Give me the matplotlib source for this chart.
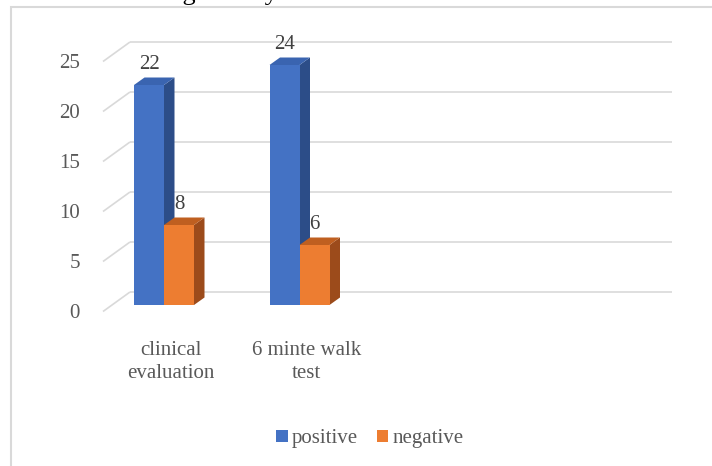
import matplotlib
matplotlib.use("Agg")
import matplotlib.pyplot as plt
from matplotlib.patches import Polygon, Rectangle

# ---- data -------------------------------------------------------------
categories = ["clinical\nevaluation", "6 minte walk\ntest", "", ""]
series_names = ["positive", "negative"]
positive = [22, 24]
negative = [8, 6]
y_ticks = [0, 5, 10, 15, 20, 25]
caption = "Chart.3 shows the diagnostic yield of clinical evaluation and 6 minute walk test"

# ---- style ------------------------------------------------------------
plt.rcParams["font.family"] = ["Liberation Serif", "DejaVu Serif"]
FS = 15
TXT = "#595959"
LBL = "#404040"
GRID = "#D9D9D9"
front_col = ["#4472C4", "#ED7D31"]
top_col = ["#3A64B0", "#BF5F20"]
side_col = ["#2C4D88", "#9C4B1B"]

W, H, DPI = 712, 466, 100
fig = plt.figure(figsize=(W / DPI, H / DPI), dpi=DPI)
ax = fig.add_axes([0, 0, 1, 1])

# scale of the plane the bar fronts sit in (pixels per category / per unit)
px_cat, px_unit = 135.5, 10.0
left_px, base_px = 96.25, 305.0
ax.set_xlim(-0.5 - left_px / px_cat, -0.5 + (W - left_px) / px_cat)
ax.set_ylim(-(H - base_px) / px_unit, base_px / px_unit)
ax.axis("off")

def dx(p):
    return p / px_cat

def dy(p):
    return p / px_unit

# back wall and front edge offsets of the 3-D box
back_x, back_y = dx(33.75), dy(13.0)
front_x, front_y = dx(6.75), dy(-6.5)
depth_x, depth_y = dx(10.5), dy(7.5)
n_cat = len(categories)
x_lo, x_hi = -0.5, n_cat - 0.5

# gridlines on the back wall plus the slanted side-wall edges
for v in y_ticks:
    ax.plot([x_lo + back_x, x_hi + back_x], [v + back_y, v + back_y],
            color=GRID, lw=1.2, zorder=1, solid_capstyle="butt")
    ax.plot([x_lo + front_x, x_lo + back_x], [v + front_y, v + back_y],
            color=GRID, lw=1.2, zorder=1, solid_capstyle="butt")
    ax.text(x_lo + front_x - dx(23), v + front_y - dy(7), str(v),
            ha="right", va="baseline", fontsize=FS, color=TXT)

# bars with their top and side faces
bar_w = dx(30)
series = [positive, negative]
for s, vals in enumerate(series):
    xs = [i + (s - 0.5) * bar_w for i in range(len(vals))]
    z = 3 + s
    ax.bar(xs, vals, width=bar_w, color=front_col[s], label=series_names[s],
           zorder=z + 0.5, linewidth=0)
    for x, h in zip(xs, vals):
        xl, xr = x - bar_w / 2, x + bar_w / 2
        side = [(xr, 0), (xr + depth_x, depth_y), (xr + depth_x, h + depth_y), (xr, h)]
        top = [(xl, h), (xr, h), (xr + depth_x, h + depth_y), (xl + depth_x, h + depth_y)]
        ax.add_patch(Polygon(side, closed=True, facecolor=side_col[s], lw=0, zorder=z))
        ax.add_patch(Polygon(top, closed=True, facecolor=top_col[s], lw=0, zorder=z))
        ax.text(x, h + dy(16), str(h), ha="center", va="baseline",
                fontsize=FS, color=LBL, zorder=6)

# category labels (anchored at the baseline of the last line)
for i, c in enumerate(categories):
    if c:
        ax.text(i + front_x, -dy(73), c, ha="center", va="baseline",
                multialignment="center", fontsize=FS, color=TXT, linespacing=1.32)

# legend
handles, labels = ax.get_legend_handles_labels()
fig.legend(handles, labels, loc="center", bbox_to_anchor=(370 / W, 1 - 439 / H),
           ncol=2, frameon=False, fontsize=FS, labelcolor=TXT,
           handlelength=0.55, handleheight=0.55, handletextpad=0.2,
           columnspacing=0.9)

# chart area border
fig.add_artist(Rectangle((10.8 / W, -0.1), 2.0, 1.1 - 6.8 / H,
                         transform=fig.transFigure, fill=False,
                         edgecolor=GRID, lw=1.5))

# document caption running above the chart
fig.text(-44 / W, 1.0, caption, ha="left", va="baseline",
         fontsize=18.8, color="#000000")

fig.savefig("out.png", dpi=DPI)
